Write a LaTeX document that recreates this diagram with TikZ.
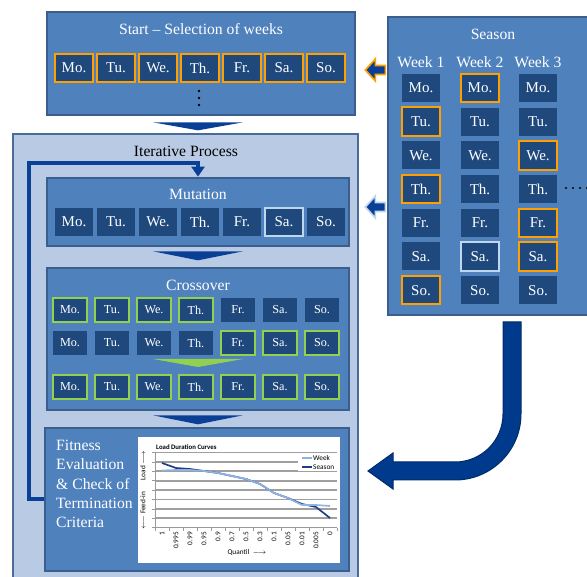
\documentclass[tikz,border=0pt]{standalone}
\usepackage{fontspec}
\setmainfont{Liberation Serif}
\newfontfamily\chartfont{Carlito}
\usetikzlibrary{positioning, fit, calc, arrows.meta}

\definecolor{panelblue}{HTML}{4F81BD}
\definecolor{panelline}{HTML}{3B5E8C}
\definecolor{daybg}{HTML}{1F497D}
\definecolor{selorange}{HTML}{FFA000}
\definecolor{mutlight}{HTML}{BDD7EE}
\definecolor{crossgreen}{HTML}{92D050}
\definecolor{iterfill}{HTML}{B9CBE4}
\definecolor{iterline}{HTML}{4A6A9A}
\definecolor{arrowblue}{HTML}{0A3F96}
\definecolor{bigfill}{HTML}{003A8C}
\definecolor{bigline}{HTML}{002B6B}
\definecolor{weekblue}{HTML}{8DB3E2}
\definecolor{seasonblue}{HTML}{1F3C88}

\tikzset{
  panel/.style={fill=panelblue, draw=panelline, line width=0.8mm, inner sep=0pt},
  iterpanel/.style={fill=iterfill, draw=iterline, line width=0.6mm, inner sep=0pt},
  title/.style={text=white, inner sep=0pt, font=\fontsize{13.4}{15}\selectfont},
  day/.style={fill=daybg, text=white, minimum width=11.2mm, minimum height=8.4mm,
    inner sep=0pt, font=\fontsize{12.8}{14}\selectfont},
  smallday/.style={day, minimum width=10.2mm, minimum height=7.2mm,
    font=\fontsize{10.4}{12}\selectfont},
  orangesel/.style={draw=selorange, line width=0.6mm},
  mutsel/.style={draw=mutlight, line width=0.6mm},
  crosssel/.style={draw=crossgreen, line width=0.6mm},
  feedback/.style={draw=arrowblue, line width=1.2mm,
    -{Triangle[length=3mm, width=3.9mm]}},
  gridline/.style={draw=gray!75, line width=0.5mm},
  axisline/.style={draw=gray!80, line width=0.2mm},
}

\begin{document}
\begin{tikzpicture}[x=0.3mm, y=-0.3mm]
  \clip (0,0) rectangle (587,577);
  \useasboundingbox (0,0) rectangle (587,577);

  % Inicio - seleccion de semanas
  \node[panel, fit={(47,12) (355,115)}] (start) {};
  \node[title] (starttitle) at (201,29) {Start -- Selection of weeks};
  \foreach \d [count=\i] in {Mo.,Tu.,We.,Th.,Fr.,Sa.,So.}
    \node[day, orangesel] (st\i) at ({32+42*\i},68) {\d};
  \foreach \y in {91,98,105}
    \fill (199,\y) circle (1.4); % puntos verticales

  % Temporada
  \node[panel, fit={(388,17) (600,315)}] (season) {};
  \node[title] (seasontitle) at (493,34) {Season};
  \foreach \w/\x in {1/421,2/480,3/538} {
    \node[title] (wk\w) at (\x,62) {Week \w};
    \foreach \d [count=\i] in {Mo.,Tu.,We.,Th.,Fr.,Sa.,So.}
      \node[day] (w\w d\i) at (\x,{88+33.7*(\i-1)}) {\d};
  }
  \foreach \n in {w1d2,w1d4,w1d7,w2d1,w3d3,w3d5,w3d6}
    \draw[orangesel] (\n.north west) rectangle (\n.south east);
  \draw[mutsel] (w2d6.north west) rectangle (w2d6.south east);
  \foreach \x in {566,573,580,587}
    \fill (\x,188) circle (1.1); % mas semanas

  % Proceso iterativo
  \node[iterpanel, fit={(13,134) (358,600)}] (iter) {};
  \node[inner sep=0pt, font=\fontsize{13.4}{15}\selectfont] (itertitle) at (186,151) {Iterative Process};

  % Mutacion
  \node[panel, fit={(47,178) (349,246)}] (mut) {};
  \node[title] (muttitle) at (198,194) {Mutation};
  \foreach \d [count=\i] in {Mo.,Tu.,We.,Th.,Fr.,Sa.,So.}
    \node[day] (mu\i) at ({32+42*\i},222) {\d};
  \draw[mutsel] (mu6.north west) rectangle (mu6.south east);

  % Cruce
  \node[panel, fit={(47,268) (349,410)}] (cross) {};
  \node[title] (crosstitle) at (198,285) {Crossover};
  \foreach \d [count=\i] in {Mo.,Tu.,We.,Th.,Fr.,Sa.,So.} {
    \node[smallday] (ca\i) at ({28+42*\i},310) {\d};
    \node[smallday] (cb\i) at ({28+42*\i},343) {\d};
    \node[smallday, crosssel] (cc\i) at ({28+42*\i},387) {\d};
  }
  \foreach \i in {1,...,4}
    \draw[crosssel] (ca\i.north west) rectangle (ca\i.south east);
  \foreach \i in {5,...,7}
    \draw[crosssel] (cb\i.north west) rectangle (cb\i.south east);
  \fill[crossgreen] ($(cross.center)+(-45,20)$) -- ++(90,0) -- ++(-45,8) -- cycle;

  % Evaluacion
  \node[panel, fit={(45,428) (349,571)}] (fit) {};
  \node[text=white, anchor=west, align=left, inner sep=0pt,
    font=\fontsize{13.4}{16.5}\selectfont] (fittext) at (56,484)
    {Fitness\\Evaluation\\\& Check of\\Termination\\Criteria};

  % Flechas entre cajas
  \fill[arrowblue] ($(start.south -| mut.north)+(-45,6)$) -- ++(90,0) -- ++(-45,8) -- cycle;
  \fill[arrowblue] ($(mut.south)+(-45,4)$) -- ++(90,0) -- ++(-45,9) -- cycle;
  \fill[arrowblue] ($(cross.south)+(-45,4)$) -- ++(90,0) -- ++(-45,9) -- cycle;
  \coordinate (fbk) at (29,163);
  \draw[feedback] (fit.west) -| (fbk) -| (mut.north); % lazo de iteracion

  \path (start.east) ++(9,6.5) coordinate (tipa);
  \path (mut.east) ++(15,-5) coordinate (tipb);
  \draw[fill=arrowblue, draw=selorange, line width=0.5mm, line join=miter]
    (tipa) -- ++(10,-11) -- ++(0,6.5) -- ++(10,0) -- ++(0,9) -- ++(-10,0) -- ++(0,6.5) -- cycle;
  \draw[fill=arrowblue, draw=mutlight, line width=0.5mm, line join=miter]
    (tipb) -- ++(10,-11) -- ++(0,6.5) -- ++(10,0) -- ++(0,9) -- ++(-10,0) -- ++(0,6.5) -- cycle;

  % Flecha curva temporada -> evaluacion
  \draw[fill=bigfill, draw=bigline, line width=0.3mm]
    (503,322) -- (521,322) [rounded corners=19.8mm] -- (521,480) [sharp corners]
    -- (393,480) -- (393,489) -- (368,471) -- (393,453) -- (393,462)
    [rounded corners=14.4mm] -- (503,462) [sharp corners] -- cycle;

  % Grafica
  \node[fill=white, inner sep=0pt, fit={(138,437) (340,563)}] (chart) {};
  \begin{scope}[font=\chartfont\fontsize{6.2}{7}\selectfont]
    \foreach \k in {0,...,7}
      \draw[gridline] (155,{452.5+9.4*\k}) -- (337,{452.5+9.4*\k});
    \draw[axisline] (155,452.5) -- (155,527.7) -- (337,527.7);
    \foreach \k in {0,...,8}
      \draw[axisline] (152,{452.5+9.4*\k}) -- (155,{452.5+9.4*\k});
    \foreach \k in {0,...,13}
      \draw[axisline] ({155+14*\k},527.7) -- ++(0,3);
    \foreach \q [count=\i from 0] in {1,0.995,0.99,0.95,0.9,0.7,0.5,0.3,0.1,0.05,0.01,0.005,0}
      \node[rotate=90, anchor=east, inner sep=0pt] (q\i) at ({162+14*\i},532) {\q};
    \fill[white] (298,454.5) rectangle (337,471);
    \draw[seasonblue, line width=0.5mm] plot coordinates {(162,463) (176,468) (190,469)
      (204,471) (218,473) (232,476) (246,479) (260,484) (274,493) (288,498)
      (302,504) (316,507) (330,518)};
    \draw[weekblue, line width=0.5mm] plot coordinates {(162,470.5) (176,470) (190,470)
      (204,471) (218,473) (232,476) (246,479) (260,484) (274,493) (288,498)
      (302,505) (316,505) (330,506)};
    \draw[weekblue, line width=0.5mm] (302,458) -- (312,458);
    \draw[seasonblue, line width=0.5mm] (302,467) -- (312,467);
    \node[anchor=west, inner sep=0pt] (lgweek) at (313,458) {Week};
    \node[anchor=west, inner sep=0pt] (lgseason) at (313,467) {Season};
    \node[anchor=west, inner sep=0pt, font=\chartfont\bfseries\fontsize{5.8}{6.5}\selectfont]
      (charttitle) at (156,447) {Load Duration Curves};
    \node[rotate=90, inner sep=0pt] (ylab) at (143,490)
      {$\longleftarrow$\ Feed-in\hspace{3.5mm}Load\ $\longrightarrow$};
    \node[inner sep=0pt] (xlab) at (247,552) {Quantil\ \ $\longrightarrow$};
  \end{scope}
\end{tikzpicture}
\end{document}
